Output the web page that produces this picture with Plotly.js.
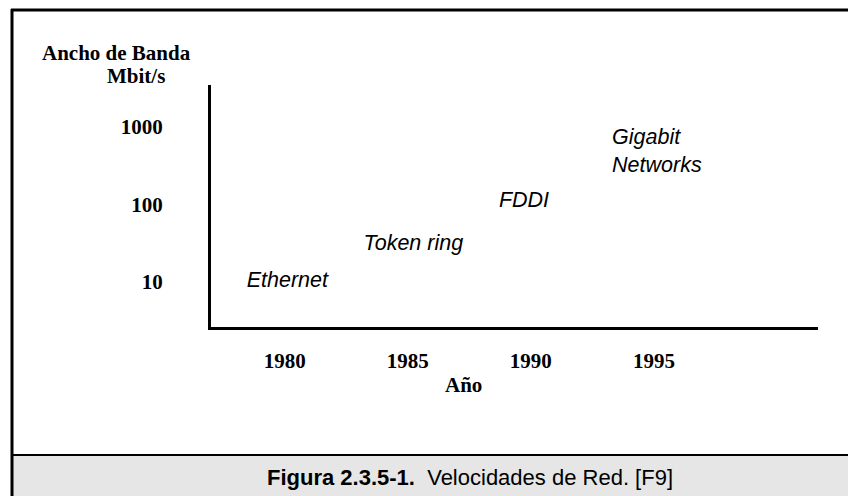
<!DOCTYPE html>
<html>
<head>
<meta charset="utf-8">
<script src="https://cdn.plot.ly/plotly-3.0.1.min.js"></script>
<style>
  html, body { margin: 0; padding: 0; background: #ffffff; }
  #chart { width: 848px; height: 496px; }
</style>
</head>
<body>
<div id="chart"></div>
<script>
// Data
const networks = ["Ethernet", "Token ring", "FDDI", "Gigabit<br>Networks"];
const labelYears = [1978.45, 1983.2, 1988.7, 1993.3];
const labelSpeeds = [10, 30, 110, 470];
const xTickVals = [1980, 1985, 1990, 1995];
const xTickText = ["1980", "1985", "1990", "1995"];
const yTickVals = [10, 100, 1000];
const yTickText = ["10", "100", "1000"];
const yTitleLines = ["Ancho de Banda", "Mbit/s"];
const xTitle = "Año";
const captionBold = "Figura 2.3.5-1.";
const captionRest = "Velocidades de Red. [F9]";

// pixel helpers for decorations (paper coords)
const L = 211, R = 818, T = 85, B = 327, W = 848, H = 496;
const px = x => (x - L) / (R - L);
const py = y => (B - y) / (B - T);

const serif = "'Liberation Serif', 'Times New Roman', serif";
const sans = "'Liberation Sans', Arial, sans-serif";

// network labels drawn as text marks at their (year, speed) positions
const trace = {
  x: labelYears,
  y: labelSpeeds,
  mode: "text",
  type: "scatter",
  text: networks.map(s => "<i>" + s + "</i>"),
  textposition: "middle right",
  textfont: { family: sans, size: 21.5, color: "#000000" },
  hoverinfo: "none",
  showlegend: false,
  cliponaxis: false
};

const layout = {
  width: W, height: H,
  margin: { l: L, r: W - R, t: T, b: H - B, pad: 0 },
  paper_bgcolor: "#ffffff",
  plot_bgcolor: "#ffffff",
  showlegend: false,
  xaxis: {
    type: "linear",
    range: [1977, 2001.67],
    tickvals: xTickVals,
    ticktext: xTickText,
    ticks: "",
    showgrid: false,
    zeroline: false,
    showline: true,
    linewidth: 3,
    linecolor: "#000000",
    ticklabelstandoff: 13,
    tickfont: { family: serif, size: 21, color: "#000000", weight: "bold" },
    fixedrange: true
  },
  yaxis: {
    type: "log",
    range: [0.419, 3.542],
    tickvals: yTickVals,
    ticktext: yTickText,
    ticks: "",
    showgrid: false,
    zeroline: false,
    showline: true,
    linewidth: 3,
    linecolor: "#000000",
    ticklabelstandoff: 41,
    tickfont: { family: serif, size: 21, color: "#000000", weight: "bold" },
    fixedrange: true
  },
  shapes: [
    { type: "rect", xref: "paper", yref: "paper", x0: px(12), x1: px(860), y0: py(455), y1: py(500),
      fillcolor: "#e6e6e6", line: { width: 0 }, layer: "below" },
    { type: "line", xref: "paper", yref: "paper", x0: px(11), x1: px(860), y0: py(10), y1: py(10),
      line: { color: "#000000", width: 3 } },
    { type: "line", xref: "paper", yref: "paper", x0: px(12), x1: px(12), y0: py(9), y1: py(500),
      line: { color: "#000000", width: 3 } },
    { type: "line", xref: "paper", yref: "paper", x0: px(11), x1: px(860), y0: py(455), y1: py(455),
      line: { color: "#000000", width: 2 } }
  ],
  annotations: [
    { xref: "paper", yref: "paper", x: px(116), y: py(53), text: "<b>" + yTitleLines[0] + "</b>",
      showarrow: false, xanchor: "center", yanchor: "middle",
      font: { family: serif, size: 21, color: "#000000" } },
    { xref: "paper", yref: "paper", x: px(136), y: py(76), text: "<b>" + yTitleLines[1] + "</b>",
      showarrow: false, xanchor: "center", yanchor: "middle",
      font: { family: serif, size: 21, color: "#000000" } },
    { xref: "paper", yref: "paper", x: px(463), y: py(385), text: "<b>" + xTitle + "</b>",
      showarrow: false, xanchor: "center", yanchor: "middle",
      font: { family: serif, size: 21, color: "#000000" } },
    { xref: "paper", yref: "paper", x: px(470), y: py(477),
      text: "<b>" + captionBold + "</b>  " + captionRest,
      showarrow: false, xanchor: "center", yanchor: "middle",
      font: { family: sans, size: 22, color: "#000000" } }
  ]
};

Plotly.newPlot("chart", [trace], layout, { staticPlot: true, displayModeBar: false });
</script>
</body>
</html>
